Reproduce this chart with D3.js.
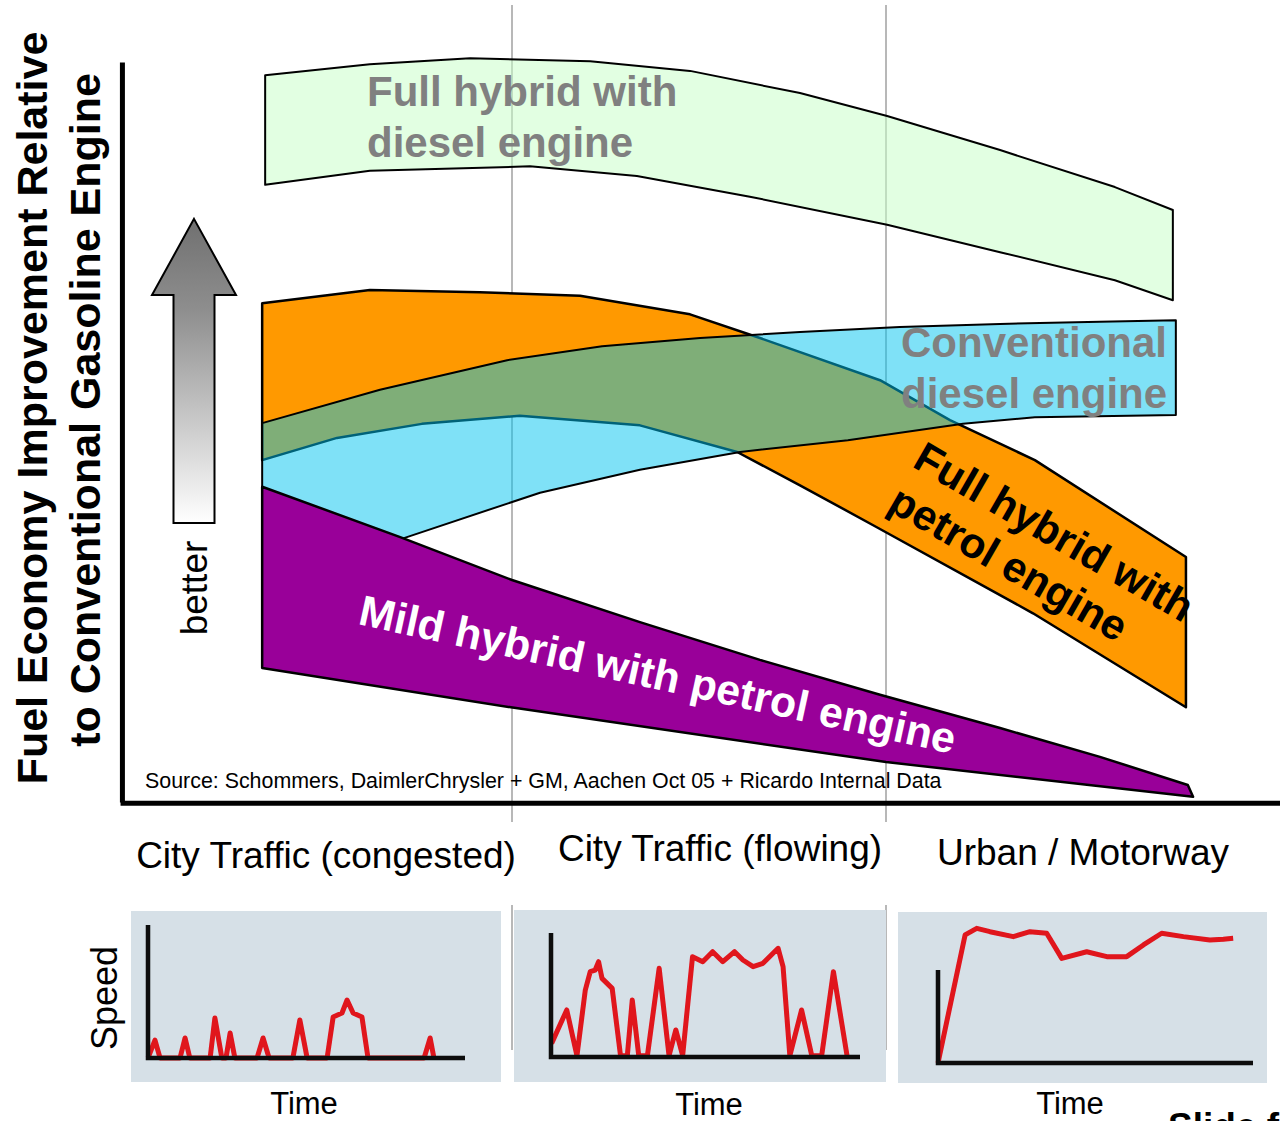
<!DOCTYPE html>
<html>
<head>
<meta charset="utf-8">
<script src="https://cdn.jsdelivr.net/npm/d3@7"></script>
<style>
  html, body { margin: 0; padding: 0; background: #fff; }
  svg { display: block; font-family: "Liberation Sans", Arial, Helvetica, sans-serif; }
</style>
</head>
<body>
<svg id="chart" width="1280" height="1121"></svg>
<script>
// ---------------------------------------------------------------------------
// Driving regimes along the horizontal axis (0 = congested ... 3 = motorway)
const regimes = ["City Traffic (congested)", "City Traffic (flowing)", "Urban / Motorway"];

// Technology bands: [drive-cycle position, fuel economy improvement index]
// upper and lower edges, both listed left to right
const dieselHybridTop = [[0.340, 98.2], [0.620, 99.7], [0.888, 100.5], [1.209, 100.1], [1.476, 98.8],
  [1.770, 95.8], [2.003, 92.7], [2.305, 88.1], [2.612, 83.1], [2.767, 80.0]];
const dieselHybridBottom = [[0.340, 83.4], [0.620, 85.3], [1.048, 85.9], [1.334, 84.6], [1.636, 81.8],
  [2.003, 78.0], [2.305, 74.3], [2.612, 70.5], [2.767, 67.8]];

const petrolHybridTop = [[0.332, 67.4], [0.620, 69.2], [0.914, 68.9], [1.182, 68.4], [1.476, 65.9],
  [1.663, 62.7], [1.984, 57.0], [2.171, 51.6], [2.398, 46.2], [2.802, 33.1]];
const petrolHybridBottom = [[0.332, 46.2], [0.532, 49.2], [0.759, 51.1], [1.021, 52.2], [1.342, 50.9],
  [1.602, 47.3], [1.770, 42.8], [1.973, 37.2], [2.393, 25.5], [2.802, 12.8]];

const dieselTop = [[0.332, 51.2], [0.647, 55.7], [0.987, 59.7], [1.241, 61.6], [1.503, 62.7],
  [1.770, 63.5], [2.037, 64.2], [2.305, 64.6], [2.572, 64.9], [2.775, 65.1]];
const dieselBottom = [[0.332, 29.3], [0.719, 35.8], [1.075, 41.8], [1.342, 44.9], [1.610, 47.3],
  [1.898, 48.9], [2.206, 51.1], [2.398, 52.0], [2.775, 52.3]];

const mildHybridTop = [[0.332, 42.6], [0.701, 35.8], [1.000, 30.0], [1.342, 24.3], [1.663, 19.2],
  [1.984, 14.5], [2.305, 10.0], [2.572, 6.1], [2.807, 2.3]];
const mildHybridBottom = [[0.332, 18.1], [0.997, 12.8], [2.000, 5.4], [2.821, 0.7]];

// Speed traces for each regime: [time %, speed %]
const speedCongested = [[0, 0], [2.2, 13.8], [3.8, 0], [10.1, 0], [11.7, 15.4], [13.2, 0], [19.6, 0],
  [21.1, 30.8], [23.3, 0], [24.6, 0], [25.9, 19.2], [27.4, 0], [34.4, 0], [36.3, 15.4], [38.2, 0],
  [45.7, 0], [47.9, 29.2], [50.2, 0], [56.5, 0], [58.4, 31.5], [61.2, 34.6], [62.8, 44.6],
  [64.7, 34.6], [67.5, 31.5], [69.4, 0], [87.1, 0], [89.0, 15.4], [90.2, 0]];
const speedFlowing = [[0.2, 10.5], [5.1, 36.2], [8.4, 1], [11.1, 51.5], [12.7, 65.6], [14.3, 66.9],
  [15.4, 73.3], [16.5, 60.5], [19.8, 52.8], [22.5, 1], [24.7, 1], [26.3, 43.8], [28.4, 1], [31.2, 1],
  [35.0, 68.2], [38.2, 1], [40.4, 20.8], [42.6, 1], [45.8, 77.2], [49.1, 73.3], [52.3, 81.0],
  [55.6, 73.3], [59.4, 81.0], [62.1, 74.6], [65.4, 69.5], [68.6, 72.1], [73.5, 83.6], [75.1, 69.5],
  [77.3, 1], [81.1, 36.2], [84.4, 1], [87.6, 1], [91.4, 65.6], [95.8, 1]];
const speedMotorway = [[0, 0], [8.6, 98.5], [12.3, 103.6], [16.5, 101.0], [23.9, 97.2], [29.2, 101.0],
  [34.5, 99.8], [39.3, 80.5], [47.2, 85.6], [53.6, 81.8], [59.9, 81.8], [65.2, 90.8], [71.0, 99.8],
  [77.9, 97.2], [86.3, 94.6], [90.6, 95.2], [93.7, 95.9]];

// ---------------------------------------------------------------------------
const svg = d3.select("#chart");

const x = d3.scaleLinear().domain([0, 3]).range([138, 1260]);
const y = d3.scaleLinear().domain([0, 100]).range([802, 62]);

const edge = d3.line().x(d => x(d[0])).y(d => y(d[1]));
const band = (top, bottom) => edge(top.concat(bottom.slice().reverse())) + "Z";

// regime dividers
const dividers = svg.append("g").attr("stroke", "#b8b8b8").attr("stroke-width", 2);
[1, 2].forEach(v => {
  dividers.append("line").attr("x1", x(v)).attr("x2", x(v)).attr("y1", 5).attr("y2", 822);
  dividers.append("line").attr("x1", x(v)).attr("x2", x(v)).attr("y1", 905).attr("y2", 1050);
});

// bands
const bands = svg.append("g").attr("stroke", "#000").attr("stroke-linejoin", "round");
bands.append("path").attr("d", band(dieselHybridTop, dieselHybridBottom))
  .attr("fill", "rgb(200,255,200)").attr("fill-opacity", 0.52).attr("stroke-width", 2);
bands.append("path").attr("d", band(petrolHybridTop, petrolHybridBottom))
  .attr("fill", "#ff9900").attr("stroke-width", 2.5);
bands.append("path").attr("d", band(dieselTop, dieselBottom))
  .attr("fill", "rgb(0,195,240)").attr("fill-opacity", 0.5).attr("stroke-width", 2);
bands.append("path").attr("d", band(mildHybridTop, mildHybridBottom))
  .attr("fill", "#990099").attr("stroke-width", 2.5);

// axes (plain lines, no ticks)
const yAxis = svg.append("g").attr("transform", `translate(${x(-0.043)},0)`)
  .call(d3.axisLeft(y).ticks(0).tickSizeOuter(0));
const xAxis = svg.append("g").attr("transform", `translate(0,${y(-0.1)})`)
  .call(d3.axisBottom(d3.scaleLinear().domain([0, 1]).range([x(-0.048), 1282])).ticks(0).tickSizeOuter(0));
[yAxis, xAxis].forEach(a => a.select(".domain").attr("stroke", "#000").attr("stroke-width", 5));

// "better" arrow
const defs = svg.append("defs");
const grad = defs.append("linearGradient").attr("id", "arrowGrad")
  .attr("gradientUnits", "userSpaceOnUse").attr("x1", 0).attr("x2", 0).attr("y1", y(78.8)).attr("y2", y(37.7));
grad.append("stop").attr("offset", 0).attr("stop-color", "#707070");
grad.append("stop").attr("offset", 0.3).attr("stop-color", "#8e8e8e");
grad.append("stop").attr("offset", 1).attr("stop-color", "#ffffff");
const ax = 194, headHalf = 42, shaftHalf = 20.5;
const arrowPath = d3.path();
arrowPath.moveTo(ax, y(78.8));
arrowPath.lineTo(ax + headHalf, y(68.5));
arrowPath.lineTo(ax + shaftHalf, y(68.5));
arrowPath.lineTo(ax + shaftHalf, y(37.7));
arrowPath.lineTo(ax - shaftHalf, y(37.7));
arrowPath.lineTo(ax - shaftHalf, y(68.5));
arrowPath.lineTo(ax - headHalf, y(68.5));
arrowPath.closePath();
svg.append("path").attr("d", arrowPath.toString()).attr("fill", "url(#arrowGrad)")
  .attr("stroke", "#000").attr("stroke-width", 2);
svg.append("text").attr("transform", `translate(207,588) rotate(-90)`)
  .attr("text-anchor", "middle").attr("font-size", 37).attr("fill", "#000").text("better");

// y-axis title
const yTitle = ["Fuel Economy Improvement Relative", "to Conventional Gasoline Engine"];
svg.append("text").attr("transform", `translate(47,408) rotate(-90)`)
  .attr("text-anchor", "middle").attr("font-size", 43).attr("font-weight", "bold").text(yTitle[0]);
svg.append("text").attr("transform", `translate(100,410) rotate(-90)`)
  .attr("text-anchor", "middle").attr("font-size", 43).attr("font-weight", "bold").text(yTitle[1]);

// band labels
function multiline(sel, lines, lh) {
  lines.forEach((t, i) => sel.append("tspan").attr("x", 0).attr("dy", i ? lh : 0).text(t));
}
multiline(svg.append("text").attr("transform", "translate(367,106)")
  .attr("font-size", 42).attr("font-weight", "bold").attr("fill", "#808080"),
  ["Full hybrid with", "diesel engine"], 51);
multiline(svg.append("text").attr("transform", "translate(901,357)")
  .attr("font-size", 42).attr("font-weight", "bold").attr("fill", "#808080"),
  ["Conventional", "diesel engine"], 51);
multiline(svg.append("text").attr("transform", "translate(911,466) rotate(30)")
  .attr("font-size", 42.5).attr("font-weight", "bold").attr("fill", "#000"),
  ["Full hybrid with", "petrol engine"], 50);
svg.append("text").attr("transform", "translate(357,624) rotate(12.3)")
  .attr("font-size", 43).attr("font-weight", "bold").attr("fill", "#fff")
  .text("Mild hybrid with petrol engine");

// source note
svg.append("text").attr("x", 145).attr("y", 788).attr("font-size", 21.4).attr("fill", "#000")
  .text("Source: Schommers, DaimlerChrysler + GM, Aachen Oct 05 + Ricardo Internal Data");

// regime names
const regimeLabelPos = [[326, 868], [720, 861], [1083, 865]];
svg.append("g").selectAll("text").data(regimes).join("text")
  .attr("x", (d, i) => regimeLabelPos[i][0]).attr("y", (d, i) => regimeLabelPos[i][1])
  .attr("text-anchor", "middle").attr("font-size", 37).attr("fill", "#000").text(d => d);

// speed-time panels
const panels = [
  { bg: [131, 911, 501, 1082], x0: 148, x1: 465, base: 1058, axisTop: 925, data: speedCongested },
  { bg: [514, 910, 886, 1082], x0: 551, x1: 860, base: 1057, axisTop: 933, data: speedFlowing },
  { bg: [898, 912, 1267, 1083], x0: 938, x1: 1253, base: 1063, axisTop: 970, data: speedMotorway }
];
const soft = defs.append("filter").attr("id", "soft");
soft.append("feGaussianBlur").attr("stdDeviation", 0.6);

panels.forEach(p => {
  const g = svg.append("g");
  g.append("rect").attr("x", p.bg[0]).attr("y", p.bg[1])
    .attr("width", p.bg[2] - p.bg[0]).attr("height", p.bg[3] - p.bg[1]).attr("fill", "#d6e0e7");
  const t = d3.scaleLinear().domain([0, 100]).range([p.x0, p.x1]);
  const v = d3.scaleLinear().domain([0, 100]).range([p.base, p.base - 130]);
  const inner = g.append("g").attr("filter", "url(#soft)");
  inner.append("path").datum(p.data)
    .attr("d", d3.line().x(d => t(d[0])).y(d => v(d[1])))
    .attr("fill", "none").attr("stroke", "#e0141e").attr("stroke-width", 5).attr("stroke-linejoin", "round");
  inner.append("path")
    .attr("d", `M${p.x0},${p.axisTop}V${p.base}H${p.x1}`)
    .attr("fill", "none").attr("stroke", "#111").attr("stroke-width", 4.5);
});

svg.append("text").attr("transform", "translate(117,998) rotate(-90)")
  .attr("text-anchor", "middle").attr("font-size", 36).attr("fill", "#000").text("Speed");
[[304, 1114], [709, 1115], [1070, 1114]].forEach(([cx, cy]) =>
  svg.append("text").attr("x", cx).attr("y", cy).attr("text-anchor", "middle")
    .attr("font-size", 31).attr("fill", "#000").text("Time"));

svg.append("text").attr("x", 1168).attr("y", 1139).attr("font-size", 37)
  .attr("font-weight", "bold").attr("fill", "#000").text("Slide f");
</script>
</body>
</html>
